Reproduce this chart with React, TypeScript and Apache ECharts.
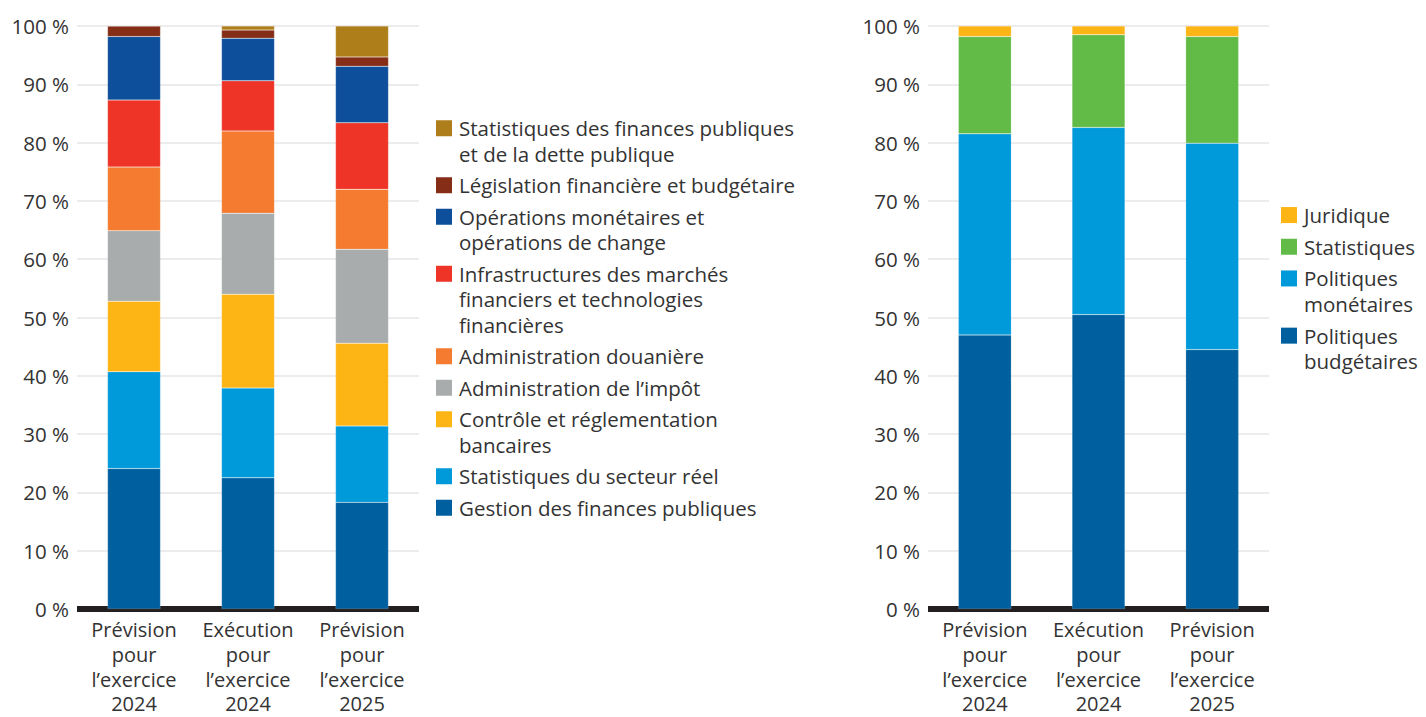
import React, { useEffect, useRef } from "react";
import * as echarts from "echarts";

const categories = [
  "Prévision\npour\nl’exercice\n2024",
  "Exécution\npour\nl’exercice\n2024",
  "Prévision\npour\nl’exercice\n2025",
];

// Left chart (stack order bottom -> top)
const leftNames = [
  "Gestion des finances publiques",
  "Statistiques du secteur réel",
  "Contrôle et réglementation bancaires",
  "Administration de l’impôt",
  "Administration douanière",
  "Infrastructures des marchés financiers et technologies financières",
  "Opérations monétaires et opérations de change",
  "Législation financière et budgétaire",
  "Statistiques des finances publiques et de la dette publique",
];
const leftLegendLabels = [
  "Gestion des finances publiques",
  "Statistiques du secteur réel",
  "Contrôle et réglementation\nbancaires",
  "Administration de l’impôt",
  "Administration douanière",
  "Infrastructures des marchés\nfinanciers et technologies\nfinancières",
  "Opérations monétaires et\nopérations de change",
  "Législation financière et budgétaire",
  "Statistiques des finances publiques\net de la dette publique",
];
const leftColors = [
  "#00609F",
  "#009ADB",
  "#FDB515",
  "#A9ACAD",
  "#F47B30",
  "#EE3427",
  "#0D4F9A",
  "#862D17",
  "#AD7E1A",
];
const gestionFinances = [24.1, 22.5, 18.3];
const statSecteurReel = [16.6, 15.4, 13.1];
const controleBancaire = [12.1, 16.1, 14.2];
const adminImpot = [12.1, 13.9, 16.1];
const adminDouane = [10.9, 14.1, 10.3];
const infraMarches = [11.5, 8.6, 11.4];
const operationsMonetaires = [10.9, 7.3, 9.7];
const legislation = [1.8, 1.4, 1.6];
const statFinancesPubliques = [0, 0.7, 5.3];
const leftValues = [
  gestionFinances,
  statSecteurReel,
  controleBancaire,
  adminImpot,
  adminDouane,
  infraMarches,
  operationsMonetaires,
  legislation,
  statFinancesPubliques,
];

// Right chart (stack order bottom -> top)
const rightNames = ["Politiques budgétaires", "Politiques monétaires", "Statistiques", "Juridique"];
const rightLegendLabels = ["Politiques\nbudgétaires", "Politiques\nmonétaires", "Statistiques", "Juridique"];
const rightColors = ["#00609F", "#009ADB", "#63BB47", "#FDB515"];
const politiquesBudgetaires = [47.0, 50.5, 44.5];
const politiquesMonetaires = [34.5, 32.1, 35.4];
const statistiques = [16.7, 15.9, 18.3];
const juridique = [1.8, 1.5, 1.8];
const rightValues = [politiquesBudgetaires, politiquesMonetaires, statistiques, juridique];

const FONT = "Open Sans";
const FS = 20.5;
const TICK_FS = 20.5;
const CAT_FS = 20;
const TEXT = "#333333";

function buildLegend(labels: string[], colors: string[], x: number, top: number, lh: number, gap: number) {
  const els: any[] = [];
  let y = top;
  for (let i = labels.length - 1; i >= 0; i--) {
    const lines = labels[i].split("\n").length;
    els.push({
      type: "rect",
      shape: { x, y: y + lh / 2 - 8, width: 16, height: 16 },
      style: { fill: colors[i] },
      silent: true,
    });
    els.push({
      type: "text",
      x: x + 23,
      y,
      style: {
        text: labels[i],
        fontFamily: FONT,
        fontSize: FS,
        lineHeight: lh,
        fill: TEXT,
        verticalAlign: "top",
        align: "left",
      },
      silent: true,
    });
    y += lines * lh + gap;
  }
  return els;
}

export default function App() {
  const ref = useRef<HTMLDivElement>(null);
  useEffect(() => {
    document.body.style.margin = "0";
    if (!ref.current) return;
    const chart = echarts.init(ref.current, undefined, { renderer: "svg" });
    const yAxisBase = {
      type: "value",
      min: 0,
      max: 100,
      interval: 10,
      axisLine: { show: false },
      axisTick: { show: false },
      axisLabel: {
        formatter: (v: number) => `${v} %`,
        fontFamily: FONT,
        fontSize: TICK_FS,
        color: TEXT,
        margin: 8,
      },
      splitLine: { lineStyle: { color: "#E6E6E6", width: 1.5 } },
    };
    const xAxisBase = {
      type: "category",
      data: categories,
      axisLine: { lineStyle: { color: "#231F20", width: 6, cap: "butt" } },
      axisTick: { show: false },
      axisLabel: {
        interval: 0,
        fontFamily: FONT,
        fontSize: CAT_FS,
        lineHeight: 24.8,
        color: TEXT,
        margin: 8,
      },
    };
    const series: any[] = [];
    leftNames.forEach((n, i) => {
      series.push({
        type: "bar",
        name: n,
        stack: "L",
        xAxisIndex: 0,
        yAxisIndex: 0,
        barWidth: 53,
        data: leftValues[i],
        itemStyle: { color: leftColors[i], borderColor: "rgba(255,255,255,0.35)", borderWidth: 0.5 },
      });
    });
    rightNames.forEach((n, i) => {
      series.push({
        type: "bar",
        name: n,
        stack: "R",
        xAxisIndex: 1,
        yAxisIndex: 1,
        barWidth: 53,
        data: rightValues[i],
        itemStyle: { color: rightColors[i], borderColor: "rgba(255,255,255,0.35)", borderWidth: 0.5 },
      });
    });
    chart.setOption({
      animation: false,
      textStyle: { fontFamily: FONT },
      grid: [
        { left: 77, top: 26, width: 342, height: 583, outerBoundsMode: "none", containLabel: false },
        { left: 928, top: 26, width: 341, height: 583, outerBoundsMode: "none", containLabel: false },
      ],
      xAxis: [
        { ...xAxisBase, gridIndex: 0 },
        { ...xAxisBase, gridIndex: 1 },
      ],
      yAxis: [
        { ...yAxisBase, gridIndex: 0 },
        { ...yAxisBase, gridIndex: 1 },
      ],
      series,
      graphic: [
        ...buildLegend(leftLegendLabels, leftColors, 436, 115.5, 25.5, 6),
        ...buildLegend(rightLegendLabels, rightColors, 1281, 202.3, 25.5, 6.2),
      ],
    });
    return () => chart.dispose();
  }, []);
  return <div ref={ref} style={{ width: 1426, height: 717 }} />;
}
